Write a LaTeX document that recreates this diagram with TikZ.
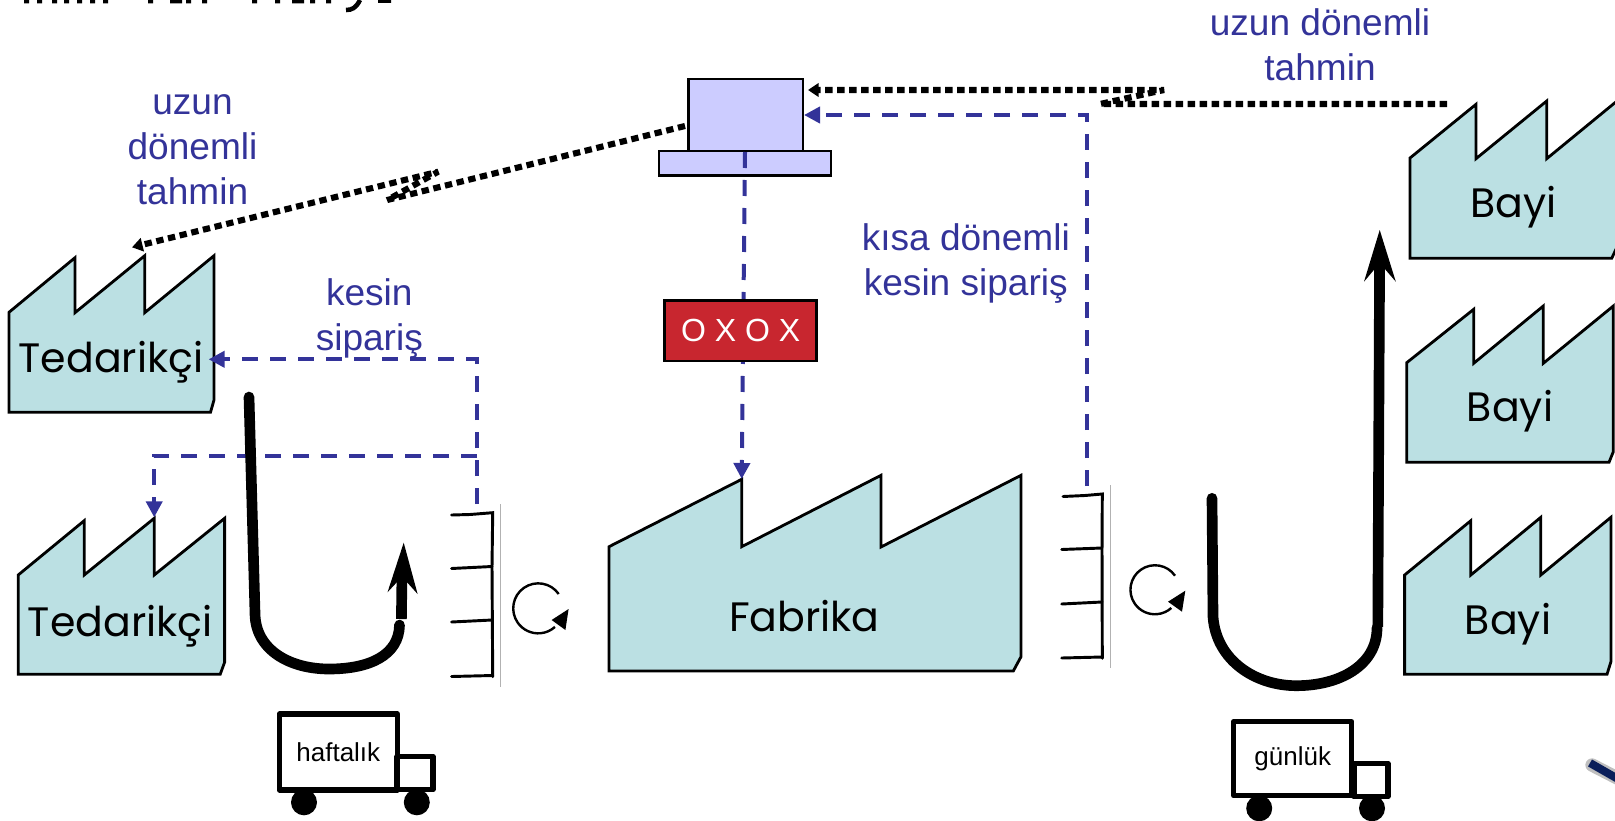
\documentclass[tikz,border=0pt]{standalone}
\usepackage{fontspec}
\setmainfont{Liberation Sans}
\newfontfamily\comicfont{Poppins}
\usetikzlibrary{arrows.meta}
\definecolor{factoryfill}{HTML}{BBE0E3}
\definecolor{flowblue}{HTML}{333399}
\definecolor{compfill}{HTML}{CCCCFF}
\definecolor{oxred}{HTML}{C8262F}
\definecolor{swoosh}{HTML}{0A1E5A}
\tikzset{
  factory/.style={draw=black,fill=factoryfill,line width=2.1pt,line join=miter},
  facname/.style={anchor=base,inner sep=0pt,font=\comicfont\fontsize{30.8}{36}\selectfont},
  bluetext/.style={align=center,inner sep=0pt,text=flowblue,font=\fontsize{27.8}{33.75}\selectfont},
  order/.style={draw=flowblue,line width=3pt,dash pattern=on 12pt off 9pt,-{Triangle[length=12pt,width=12pt]}},
  forecast/.style={draw=black,line width=4.6pt,line join=bevel,dash pattern=on 5.5pt off 3.5pt,-{Triangle[length=8pt,width=10pt]}},
  thickflow/.style={draw=black,line width=8pt,line cap=round},
  shaft/.style={draw=black,line width=8pt},
  rack/.style={draw=black,line width=2.2pt,line cap=round},
  rackbar/.style={draw=black!30,line width=0.7pt},
  cycle/.style={draw=black,line width=1.8pt},
  comp/.style={draw=black,fill=compfill,line width=2pt},
  truckbox/.style={draw=black,fill=white,line width=4pt,line join=round},
  wheel/.style={circle,fill=black,minimum size=19.5pt,inner sep=0pt},
}
\begin{document}
\begin{tikzpicture}[x=0.75pt,y=-0.75pt]
\useasboundingbox (0,0) rectangle (1615,820);
\clip (0,0) rectangle (1615,820);

% cropped remains of the heading
\fill[black] (24,0) rectangle +(5,3.5) (37,0) rectangle +(5,3.5) (52,0) rectangle +(5,3.5)
  (64,0) rectangle +(5,3.5) (77,0) rectangle +(5,3.5) (90,0) rectangle +(5,3.5) (103,0) rectangle +(5,3.5)
  (148,0) rectangle +(5,3.5) (170,0) rectangle +(12,3.5) (186,0) rectangle +(5,3.5) (202,0) rectangle +(5,3.5)
  (252,0) rectangle +(5,3.5) (275,0) rectangle +(5,3.5) (292,0) rectangle +(12,3.5) (310,0) rectangle +(5,3.5)
  (326,0) rectangle +(5,3.5) (378,0) rectangle +(13,3);
\draw[black,line width=3.4pt] (360,0) .. controls (356,8) and (352,10) .. (346,10);

% factories
\draw[factory] (9,312.3) -- (75,257.7) -- (75,312.7) -- (144.7,255.7) -- (144.7,312.7) -- (214,255.7) -- (214,400) -- (210.5,412.3) -- (9,412.3) -- cycle;
\node[facname] (ted1) at (111,372.7) {Tedarikçi};
\draw[factory] (18.2,575) -- (84.2,520.7) -- (84.2,575) -- (154.2,518.3) -- (154.2,575) -- (224.6,518.3) -- (224.6,662.3) -- (220.2,674.3) -- (18.2,674.3) -- cycle;
\node[facname] (ted2) at (120.2,636) {Tedarikçi};
\draw[factory] (609,546.7) -- (741.7,479.3) -- (741.7,546.7) -- (881,475.3) -- (881,547) -- (1021,475.3) -- (1021,656.7) -- (1013.3,671) -- (609,671) -- cycle;
\node[facname] (fab) at (804.3,631.7) {Fabrika};
\draw[factory] (1410,158) -- (1476,104.3) -- (1476,158.7) -- (1546.7,101) -- (1546.7,158.7) -- (1617,101) -- (1617,247) -- (1611.7,258.3) -- (1410,258.3) -- cycle;
\node[facname] (bayi1) at (1513.6,217.3) {Bayi};
\draw[factory] (1406.7,362.7) -- (1473.7,309.3) -- (1473.7,363.3) -- (1543.3,306) -- (1543.3,363.3) -- (1613.3,306) -- (1613.3,451.7) -- (1609,462.3) -- (1406.7,462.3) -- cycle;
\node[facname] (bayi2) at (1510,421.7) {Bayi};
\draw[factory] (1404.6,575) -- (1470.8,520.7) -- (1470.8,575) -- (1540.8,517.3) -- (1540.8,575) -- (1610.9,517.3) -- (1610.9,661.7) -- (1607,674.3) -- (1404.6,674.3) -- cycle;
\node[facname] (bayi3) at (1508,634.3) {Bayi};

% computer
\node[comp,minimum width=86pt,minimum height=54pt,inner sep=0pt] (screen) at (745.5,115) {};
\node[comp,minimum width=129pt,minimum height=18.5pt,inner sep=0pt] (base) at (745,163.3) {};

% anchor points of the connectors
\coordinate (compS) at (745,152);
\coordinate (fabTop) at (741.7,479);
\coordinate (rackRT) at (1087,486);
\coordinate (cornerR) at (1087,115);
\coordinate (compE2) at (804,115);
\coordinate (rackLT) at (477,504);
\coordinate (cornerL) at (477,359.3);
\coordinate (ted1E) at (208.6,359.3);
\coordinate (branchL) at (477,456);
\coordinate (cornerB) at (154.2,456);
\coordinate (ted2Top) at (154.2,517.3);
\coordinate (bayiFc) at (1447,104);
\coordinate (jogA) at (1100,104);
\coordinate (jogB) at (1164,90);
\coordinate (compE1) at (808,90);
\coordinate (compW) at (685,126);
\coordinate (jogC) at (387.3,200);
\coordinate (jogD) at (438.2,171.7);
\coordinate (ted1Top) at (132,247.3);

% firm-order connectors
\draw[order] (compS) -- (fabTop);
\draw[order] (rackRT) -- (cornerR) -- (compE2);
\draw[order] (rackLT) -- (cornerL) -- (ted1E);
\draw[order] (branchL) -- (cornerB) -- (ted2Top);

% forecast connectors
\draw[forecast] (bayiFc) -- (jogA) -- (jogB) -- (compE1);
\draw[forecast] (compW) -- (jogC) -- (jogD) -- (ted1Top);

% freeze box
\node[draw=black,fill=oxred,line width=2pt,minimum width=114pt,minimum height=45.5pt,inner sep=0pt,text=white,font=\fontsize{24}{28}\selectfont] (ox) at (740.7,330.7) {O X O X};

% labels
\node[bluetext] (lab1) at (192.5,150) {uzun\\dönemli\\tahmin};
\node[bluetext] (lab2) at (369.3,318) {kesin\\sipariş};
\node[bluetext] (lab3) at (965.8,263) {kısa dönemli\\kesin sipariş};
\node[bluetext] (lab4) at (1320,44.5) {uzun dönemli\\tahmin};

% left pull loop
\draw[thickflow] (249,397) -- (255,613) .. controls (255,650) and (290,669) .. (329,669) .. controls (370,669) and (399,655) .. (399.5,625);
\coordinate (leftTail) at (401.4,619);
\coordinate (leftTip) at (403.7,542.7);
\draw[shaft] (leftTail) -- (402,574);
\fill[black] (leftTip) -- (417.6,594) -- (402,576.7) -- (387.5,592.3) -- cycle;

% right pull loop
\draw[thickflow] (1212,498.3) -- (1213,616.7) .. controls (1216,660) and (1255,685.7) .. (1296.3,685.7) .. controls (1340,685.7) and (1377,665) .. (1377,628);
\coordinate (rightTail) at (1377.8,627);
\coordinate (rightTip) at (1379.7,230);
\draw[shaft] (rightTail) -- (1379.6,260);
\fill[black] (rightTip) -- (1395.8,281.7) -- (1379.7,263) -- (1364,281.7) -- cycle;

% racks
\draw[rack] (451.6,515) -- (470,514.5) -- (492.7,512.7) -- (492,567) -- (492.7,676.7);
\draw[rack] (451.6,568.5) -- (492,566.5);
\draw[rack] (451.6,622) -- (492,620);
\draw[rack] (451.6,676.5) -- (492.7,675.5);
\draw[rackbar] (500.6,504) -- (500.6,686.7);
\draw[rack] (1063,496.5) -- (1085,495.5) -- (1102.3,494) -- (1102,550) -- (1102.3,658.3);
\draw[rack] (1061.7,549.5) -- (1102,548);
\draw[rack] (1061.7,604) -- (1102,602);
\draw[rack] (1061.7,658) -- (1102.3,657);
\draw[rackbar] (1110.3,485) -- (1110.3,668.3);

% rotation arrows
\draw[cycle] (558.7,594) arc[start angle=-35,end angle=-312,radius=25];
\fill[black] (568.6,609) -- (551.6,620) -- (565.4,630) -- cycle;
\draw[cycle] (1175,575.7) arc[start angle=-35,end angle=-312,radius=24.5];
\fill[black] (1185.3,590.7) -- (1168,601.7) -- (1182,611.7) -- cycle;

% trucks
\node[truckbox,minimum width=88.5pt,minimum height=57pt,inner sep=0pt,font=\fontsize{19.5}{24}\selectfont] (truck1) at (338.3,752) {haftalık};
\node[truckbox,minimum width=27pt,minimum height=25pt,inner sep=0pt] (cab1) at (415,773) {};
\node[wheel] (w1a) at (304,802.3) {};
\node[wheel] (w1b) at (416.8,802.3) {};
\node[truckbox,minimum width=88.5pt,minimum height=55.5pt,inner sep=0pt,font=\fontsize{19.5}{24}\selectfont] (truck2) at (1292.7,758.7) {günlük};
\node[truckbox,minimum width=25.5pt,minimum height=25pt,inner sep=0pt] (cab2) at (1371,780) {};
\node[wheel] (w2a) at (1259.2,808.3) {};
\node[wheel] (w2b) at (1372,808.3) {};

% corner stroke
\draw[black!25,line width=10pt,line cap=round] (1592,765) -- (1625,782);
\draw[swoosh,line width=6pt] (1590,763) -- (1625,783);
\end{tikzpicture}
\end{document}
